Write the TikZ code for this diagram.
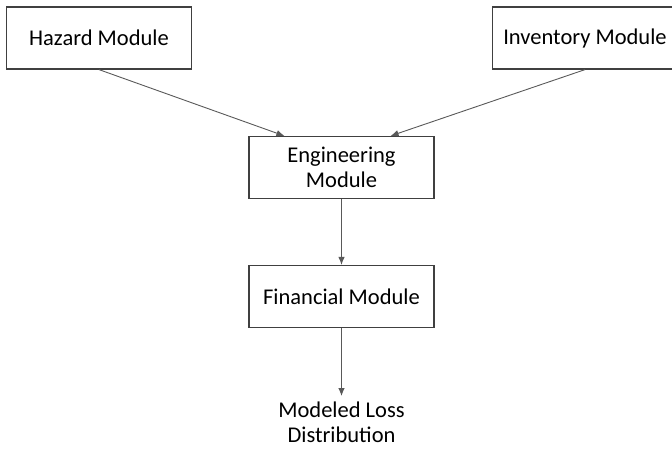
\documentclass[tikz,border=0pt]{standalone}
\usepackage{fontspec}
\setmainfont{Carlito}
\usetikzlibrary{arrows.meta}

\tikzset{module/.style={draw=black!75, line width=1.2pt, minimum width=185pt, minimum height=62pt, align=center, inner sep=0pt},
         flow/.style={draw=black!65, line width=0.9pt, -{Latex[length=8pt,width=6.5pt]}}}

\begin{document}
\begin{tikzpicture}[x=1pt,y=1pt,font=\fontsize{22.5}{25}\selectfont]
                      \useasboundingbox (0,0) rectangle (672,-448);
                      \node[module] (hazard) at (99,-38) {Hazard Module};
                      \node[module] (inventory) at (585,-38) {Inventory Module};
                      \node[module] (engineering) at (341.5,-167.5) {Engineering\\Module};
                      \node[module] (financial) at (341.5,-296.5) {Financial Module};
                      \node[align=center, inner sep=6pt, anchor=north] (loss) at (341.5,-396) {Modeled Loss\\Distribution};
                      \draw[flow] (hazard.south) -- ([xshift=36pt]engineering.north west);
                      \draw[flow] (inventory.south) -- ([xshift=-44pt]engineering.north east);
                      \draw[flow] (engineering) -- (financial);
                      \draw[flow] (financial) -- (loss);
                  \end{tikzpicture}
\end{document}
